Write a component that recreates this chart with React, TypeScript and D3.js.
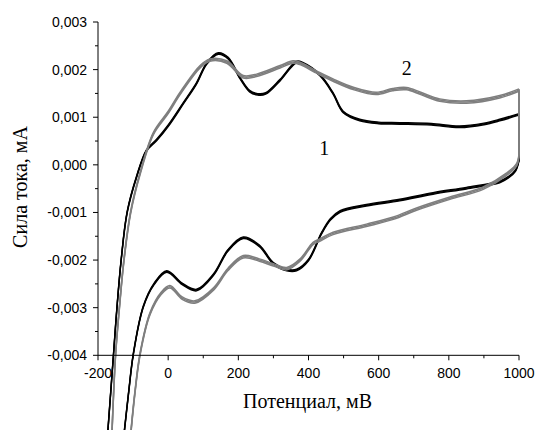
import React from "react";
import * as d3 from "d3";

// Potential (mV), current (mA) pairs
const curve1Anodic: [number, number][] = [
  [-172, -0.0056], [-156, -0.004], [-146, -0.003], [-134, -0.002], [-117, -0.001],
  [-90, -0.00025], [-62, 0.0003], [-33, 0.00052], [0, 0.00082], [43, 0.00129],
  [80, 0.0017], [110, 0.00213], [143, 0.00234], [171, 0.00224], [205, 0.00182],
  [232, 0.00155], [255, 0.00148], [278, 0.0015], [319, 0.00178], [366, 0.00216],
  [385, 0.00213], [433, 0.00188], [470, 0.0015], [499, 0.00111], [546, 0.00094],
  [600, 0.00088], [660, 0.00087], [750, 0.00085], [831, 0.0008], [900, 0.00086],
  [945, 0.00094], [1000, 0.00106],
];
const curve1Switch: [number, number][] = [[1000, 0.00106], [1000, 0.0001]];
const curve1Cathodic: [number, number][] = [
  [1000, 0.0001], [990, -0.00012], [970, -0.00026], [945, -0.00036], [850, -0.00049],
  [755, -0.0006], [660, -0.00074], [565, -0.00085], [490, -0.00098], [462, -0.00115],
  [437, -0.00144], [400, -0.002], [366, -0.00221], [338, -0.00221], [300, -0.00207],
  [260, -0.0017], [214, -0.00153], [170, -0.0018], [130, -0.0023], [81, -0.00263],
  [40, -0.0025], [-4, -0.00224], [-40, -0.0025], [-71, -0.00298], [-99, -0.00396],
  [-113, -0.0048], [-125, -0.0056],
];

const curve2Anodic: [number, number][] = [
  [-160, -0.0056], [-150, -0.004], [-139, -0.003], [-126, -0.002], [-107, -0.001],
  [-80, -0.00018], [-42, 0.00066], [0, 0.0011], [34, 0.0015], [91, 0.00206],
  [119, 0.0022], [167, 0.00216], [214, 0.00185], [252, 0.00188], [319, 0.00206],
  [356, 0.00216], [376, 0.00213], [423, 0.00195], [470, 0.00178], [530, 0.0016],
  [593, 0.0015], [640, 0.00158], [679, 0.0016], [720, 0.0015], [774, 0.00136],
  [850, 0.00132], [945, 0.00143], [1000, 0.00157],
];
const curve2Switch: [number, number][] = [[1000, 0.00157], [1000, 0.0002]];
const curve2Cathodic: [number, number][] = [
  [1000, 0.0002], [993, 0.0], [964, -0.0002], [898, -0.00049], [803, -0.0007],
  [708, -0.00093], [642, -0.00112], [565, -0.00127], [470, -0.00144], [432, -0.00158],
  [413, -0.00165], [376, -0.002], [338, -0.00218], [300, -0.0021], [260, -0.002],
  [214, -0.00193], [170, -0.0022], [130, -0.0026], [76, -0.00288], [40, -0.0028],
  [5, -0.00256], [-20, -0.0027], [-52, -0.00313], [-80, -0.00397], [-95, -0.0048],
  [-106, -0.0056],
];

const xTicks = [-200, 0, 200, 400, 600, 800, 1000];
const xMinorTicks = [-100, 100, 300, 500, 700, 900];
const yTicks = [-0.004, -0.003, -0.002, -0.001, 0, 0.001, 0.002, 0.003];
const yMinorTicks = [-0.0035, -0.0025, -0.0015, -0.0005, 0.0005, 0.0015, 0.0025];

const xTitle = "Потенциал, мВ";
const yTitle = "Сила тока, мА";
const curveLabels = [
  { text: "1", x: 445, y: 0.0002 },
  { text: "2", x: 680, y: 0.00189 },
];

export default function App() {
  const W = 535, H = 430;
  const x = d3.scaleLinear().domain([-200, 1000]).range([98, 519]);
  const y = d3.scaleLinear().domain([-0.004, 0.003]).range([355.3, 22]);

  const smooth = d3
    .line<[number, number]>()
    .x((d) => x(d[0]))
    .y((d) => y(d[1]))
    .curve(d3.curveCatmullRom.alpha(0.5));
  const straight = d3
    .line<[number, number]>()
    .x((d) => x(d[0]))
    .y((d) => y(d[1]));

  const fmt = (v: number) =>
    Math.abs(v) < 1e-12 ? "0,000" : d3.format(".3f")(v).replace(".", ",").replace("−", "-");

  const drawCurve = (
    parts: { data: [number, number][]; smooth: boolean }[],
    color: string,
    offsets: number[],
    width: number,
    key: string
  ) =>
    offsets.map((dy, i) => (
      <g key={key + i} transform={`translate(0,${dy})`}>
        {parts.map((p, j) => (
          <path
            key={j}
            d={(p.smooth ? smooth(p.data) : straight(p.data)) || ""}
            fill="none"
            stroke={color}
            strokeWidth={width}
            strokeLinejoin="round"
          />
        ))}
      </g>
    ));

  const x0 = x(-200);
  const y0 = y(-0.004);

  return (
    <svg
      width={W}
      height={H}
      style={{ position: "absolute", left: 0, top: 0, background: "#fff" }}
    >
      <rect width={W} height={H} fill="#fff" />
      {drawCurve(
        [
          { data: curve1Anodic, smooth: true },
          { data: curve1Switch, smooth: false },
          { data: curve1Cathodic, smooth: true },
        ],
        "#000",
        [-0.8, 0, 0.8],
        1.4,
        "c1"
      )}
      {drawCurve(
        [
          { data: curve2Anodic, smooth: true },
          { data: curve2Switch, smooth: false },
          { data: curve2Cathodic, smooth: true },
        ],
        "#7f7f7f",
        [-1.2, 0, 1.2],
        1.5,
        "c2"
      )}

      {/* axes */}
      <line x1={x0} x2={x0} y1={y(0.003)} y2={y0} stroke="#000" strokeWidth={1} />
      <line x1={x0} x2={x(1000)} y1={y0} y2={y0} stroke="#000" strokeWidth={1} />
      {yTicks.map((t) => (
        <g key={"yt" + t}>
          <line x1={x0 - 5} x2={x0} y1={y(t)} y2={y(t)} stroke="#000" />
          <text
            x={x0 - 11}
            y={y(t)}
            dy="0.35em"
            textAnchor="end"
            fontFamily="'Liberation Sans', Arial, sans-serif"
            fontSize={14}
            fill="#000"
          >
            {fmt(t)}
          </text>
        </g>
      ))}
      {yMinorTicks.map((t) => (
        <line key={"ym" + t} x1={x0 - 3} x2={x0} y1={y(t)} y2={y(t)} stroke="#000" />
      ))}
      {xTicks.map((t) => (
        <g key={"xt" + t}>
          <line x1={x(t)} x2={x(t)} y1={y0} y2={y0 + 5} stroke="#000" />
          <text
            x={x(t)}
            y={y0 + 23}
            textAnchor="middle"
            fontFamily="'Liberation Sans', Arial, sans-serif"
            fontSize={14}
            fill="#000"
          >
            {t}
          </text>
        </g>
      ))}
      {xMinorTicks.map((t) => (
        <line key={"xm" + t} x1={x(t)} x2={x(t)} y1={y0} y2={y0 + 3} stroke="#000" />
      ))}

      <text
        x={307.5}
        y={408}
        textAnchor="middle"
        fontFamily="'Liberation Serif', 'Times New Roman', serif"
        fontSize={20}
        fill="#000"
      >
        {xTitle}
      </text>
      <text
        transform={`translate(27,187) rotate(-90)`}
        textAnchor="middle"
        fontFamily="'Liberation Serif', 'Times New Roman', serif"
        fontSize={20}
        fill="#000"
      >
        {yTitle}
      </text>
      {curveLabels.map((l) => (
        <text
          key={l.text}
          x={x(l.x)}
          y={y(l.y)}
          textAnchor="middle"
          fontFamily="'Liberation Serif', 'Times New Roman', serif"
          fontSize={20}
          fill="#000"
        >
          {l.text}
        </text>
      ))}
    </svg>
  );
}
